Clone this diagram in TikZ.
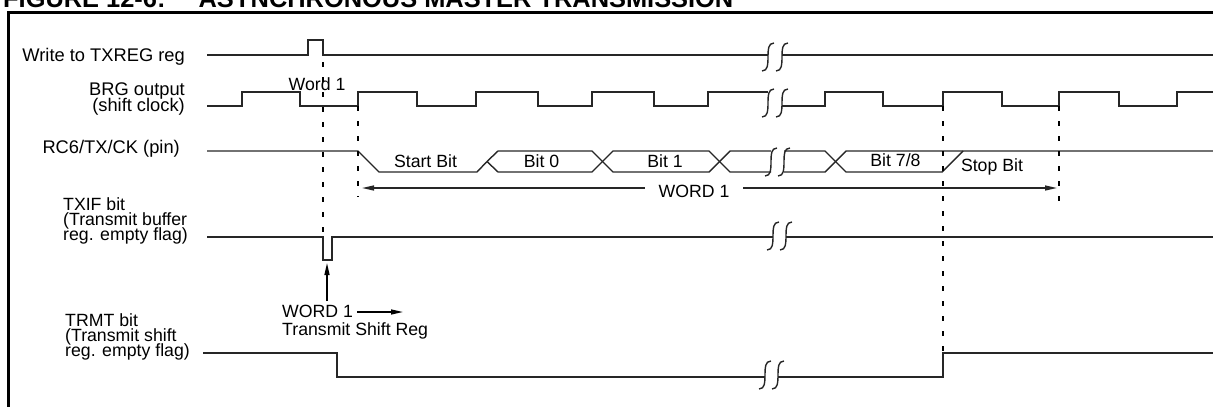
\documentclass[tikz,border=0pt]{standalone}
\usepackage{fontspec}
\setmainfont{Liberation Sans}
\usetikzlibrary{arrows.meta}

% a pair of break marks on a trace: x1, x2, y
\newcommand{\cutmark}[3]{\foreach \cx in {#1,#2}{\draw[sig] (\cx+6,#3-14) .. controls (\cx,#3-14) and (\cx,#3-7) .. (\cx,#3) .. controls (\cx,#3+7) and (\cx,#3+14) .. (\cx-6,#3+14);}}
\newcommand{\lblfont}{\fontsize{17.7}{15.4}\selectfont\lineskiplimit-20pt\lineskip0pt}
\newcommand{\sigfont}{\fontsize{18.3}{15.2}\selectfont\lineskiplimit-20pt\lineskip0pt}

\begin{document}
\begin{tikzpicture}[x=1pt,y=-1pt,
  sig/.style={line width=1.4pt,black!85},
  dsh/.style={line width=2pt,dash pattern=on 5pt off 10pt},
  lbl/.style={inner sep=0pt,font=\lblfont},
  signame/.style={inner sep=0pt,font=\sigfont},
  tip/.style={line width=1.4pt,-{Triangle[length=12pt,width=5pt]}}]
  \useasboundingbox (0,0) rectangle (1213,407);
  \node[anchor=base west,inner sep=0pt,font=\bfseries\fontsize{25.4}{30}\selectfont] (title) at (3,7.5) {FIGURE 12-6:\hspace{33pt}ASYNCHRONOUS MASTER TRANSMISSION};
  \draw[line width=3.5pt] (8.5,407) -- (8.5,12.5) -- (1213,12.5);
  % signal names
  \node[signame,anchor=base east] (lwr) at (185,61.5) {Write to TXREG reg};
  \node[signame,anchor=north east,align=right] (lbrg) at (185,83) {BRG output\\(shift clock)};
  \node[signame,anchor=base east] (lrc) at (180,153) {RC6/TX/CK (pin)};
  \node[lbl,anchor=north west,align=left] (ltxif) at (63,197) {TXIF bit\\(Transmit buffer\\reg. empty flag)};
  \node[lbl,anchor=north west,align=left] (ltrmt) at (65,313) {TRMT bit\\(Transmit shift\\reg. empty flag)};
  % traces
  \draw[sig] (207,55) -| (308,40) -| (323,55) -- (768,55);
  \draw[sig] (782,55) -- (1213,55);
  \draw[sig] (207,106) -| (242,92) -| (300,106) -| (358,92) -| (417,106) -| (476,92) -| (538,106) -| (592,92) -| (654,106) -| (708,92) -- (768,92);
  \draw[sig] (782,106) -| (825,92) -| (883,106) -| (943,92) -| (1002,106) -| (1059,92) -| (1119,106) -| (1177,92) -- (1213,92);
  \draw[sig] (207,151) -- (358,151) -- (379,172) -- (477,172) -- (487,161.5);
  \draw[sig] (487,161.5) -- (498,151) -- (592,151) -- (613,172) -- (709,172) -- (730,151) -- (771,151);
  \draw[sig] (487,161.5) -- (498,172) -- (592,172) -- (613,151) -- (709,151) -- (730,172) -- (771,172);
  \draw[sig] (784,151) -- (825,151) -- (846,172) -- (942,172) -- (963,151);
  \draw[sig] (784,172) -- (825,172) -- (846,151) -- (1213,151);
  \draw[sig] (207,237) -| (323,260) -| (332,237) -- (773,237);
  \draw[sig] (786,237) -- (1213,237);
  \draw[sig] (203,353) -| (337,377) -- (765,377);
  \draw[sig] (778,377) -| (943,353) -- (1213,353);
  \cutmark{768}{782}{57}
  \cutmark{768}{782}{103}
  \cutmark{771}{784}{162}
  \cutmark{773}{786}{236}
  \cutmark{765}{778}{375}
  % bit names
  \node[lbl,anchor=base] (nword) at (317,90) {Word 1};
  \node[lbl,anchor=base] (nstart) at (425.5,167) {Start Bit};
  \node[lbl,anchor=base] (nb0) at (541.5,167) {Bit 0};
  \node[lbl,anchor=base] (nb1) at (665,167) {Bit 1};
  \node[lbl,anchor=base] (nb78) at (895.5,166) {Bit 7/8};
  \node[lbl,anchor=base] (nstop) at (992,171) {Stop Bit};
  % timing marks
  \draw[dsh] (323,62) -- (323,237);
  \draw[dsh] (358,106) -- (358,197);
  \draw[dsh] (943,106) -- (943,353);
  \draw[dsh] (1059,106) -- (1059,202);
  % word span
  \coordinate (wl) at (362,188); \coordinate (wr) at (1057,188);
  \draw[sig,{Triangle[length=12pt,width=5pt]}-{Triangle[length=12pt,width=5pt]}] (wl) -- (wr);
  \node[lbl,anchor=base,fill=white,inner xsep=14pt] (nw1) at (694,197) {WORD 1};
  % load into shift register
  \node[lbl,anchor=base west] (nw1b) at (282,317) {WORD 1};
  \node[lbl,anchor=base west] (ntsr) at (282,335) {Transmit Shift Reg};
  \coordinate (up0) at (327,301); \coordinate (up1) at (327,263);
  \draw[tip] (up0) -- (up1);
  \coordinate (sh0) at (357,312); \coordinate (sh1) at (403,312);
  \draw[tip] (sh0) -- (sh1);
\end{tikzpicture}
\end{document}
